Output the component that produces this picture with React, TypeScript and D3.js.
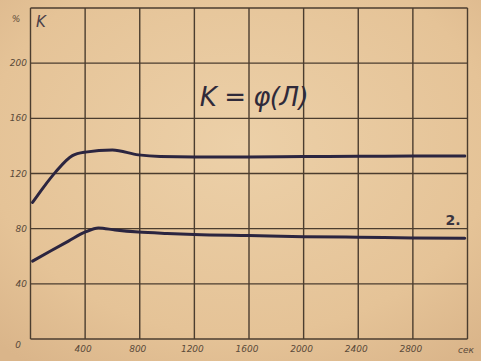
import React from "react";
import * as d3 from "d3";

const xTicks = [0, 400, 800, 1200, 1600, 2000, 2400, 2800, 3200];
const xTickLabels = ["", "400", "800", "1200", "1600", "2000", "2400", "2800", ""];
const yTicks = [0, 40, 80, 120, 160, 200, 240];
const yTickLabels = ["0", "40", "80", "120", "160", "200", ""];

const upperT = [15, 95, 183, 307, 402, 600, 790, 950, 1200, 1600, 2000, 2400, 2800, 3180];
const upperV = [99, 110, 121, 133, 135.5, 137, 133.5, 132.3, 132, 132, 132.3, 132.5, 132.6, 132.7];
const lowerT = [15, 150, 278, 402, 497, 620, 790, 1000, 1200, 1600, 2000, 2400, 2800, 3180];
const lowerV = [56.5, 64, 71, 77.6, 80.5, 79, 77.5, 76.5, 75.8, 75, 74.2, 73.8, 73.3, 73];

const W = 481;
const H = 361;

export default function App() {
  const x = d3.scaleLinear().domain([0, 3200]).range([30.5, 467.5]);
  const y = d3.scaleLinear().domain([0, 240]).range([339, 8]);
  const line = d3
    .line<[number, number]>()
    .x((d) => x(d[0]))
    .y((d) => y(d[1]))
    .curve(d3.curveMonotoneX);
  const upper = upperT.map((t, i) => [t, upperV[i]] as [number, number]);
  const lower = lowerT.map((t, i) => [t, lowerV[i]] as [number, number]);
  const grid = "#4b3d2f";
  const ink = "#2b2540";
  const font = "'DejaVu Sans', sans-serif";

  return (
    <svg
      width={W}
      height={H}
      style={{ position: "absolute", left: 0, top: 0 }}
      xmlns="http://www.w3.org/2000/svg"
    >
      <defs>
        <radialGradient id="paper" cx="50%" cy="40%" r="75%">
          <stop offset="0%" stopColor="#ecd0a8" />
          <stop offset="70%" stopColor="#e5c397" />
          <stop offset="100%" stopColor="#dab58a" />
        </radialGradient>
      </defs>
      <rect x={0} y={0} width={W} height={H} fill="url(#paper)" />
      {xTicks.map((t) => (
        <line key={"vx" + t} x1={x(t)} x2={x(t)} y1={y(0)} y2={y(240)} stroke={grid} strokeWidth={1.4} />
      ))}
      {yTicks.map((t) => (
        <line key={"hy" + t} x1={x(0)} x2={x(3200)} y1={y(t)} y2={y(t)} stroke={grid} strokeWidth={1.4} />
      ))}
      {yTicks.map((t, i) =>
        yTickLabels[i] ? (
          <text
            key={"yl" + t}
            x={t === 0 ? 18 : 27}
            y={t === 0 ? y(t) + 9 : y(t) + 3}
            textAnchor={t === 0 ? "middle" : "end"}
            fontSize={9}
            fontStyle="italic"
            fill="#5a4a3a"
            fontFamily={font}
          >
            {yTickLabels[i]}
          </text>
        ) : null
      )}
      {xTicks.map((t, i) =>
        xTickLabels[i] ? (
          <text
            key={"xl" + t}
            x={x(t) - 2}
            y={352}
            textAnchor="middle"
            fontSize={9}
            fontStyle="italic"
            fill="#5a4a3a"
            fontFamily={font}
          >
            {xTickLabels[i]}
          </text>
        ) : null
      )}
      <text x={466} y={353} textAnchor="middle" fontSize={9} fontStyle="italic" fill="#5a4a3a" fontFamily={font}>
        сек
      </text>
      <text x={16} y={22} textAnchor="middle" fontSize={9} fontStyle="italic" fill="#5a4a3a" fontFamily={font}>
        %
      </text>
      <text x={41} y={27} textAnchor="middle" fontSize={15} fontStyle="italic" fill="#4a3f4a" fontFamily={font}>
        K
      </text>
      <text x={254} y={106} textAnchor="middle" fontSize={26} fontStyle="italic" fill="#2f2a3a" fontFamily={font} letterSpacing={-0.5}>
        K = φ(Л)
      </text>
      <text x={453} y={225} textAnchor="middle" fontSize={14} fontWeight="bold" fill="#3a3540" fontFamily={font}>
        2.
      </text>
      <path d={line(upper) ?? ""} fill="none" stroke={ink} strokeWidth={3} strokeLinecap="round" />
      <path d={line(lower) ?? ""} fill="none" stroke={ink} strokeWidth={3} strokeLinecap="round" />
    </svg>
  );
}
